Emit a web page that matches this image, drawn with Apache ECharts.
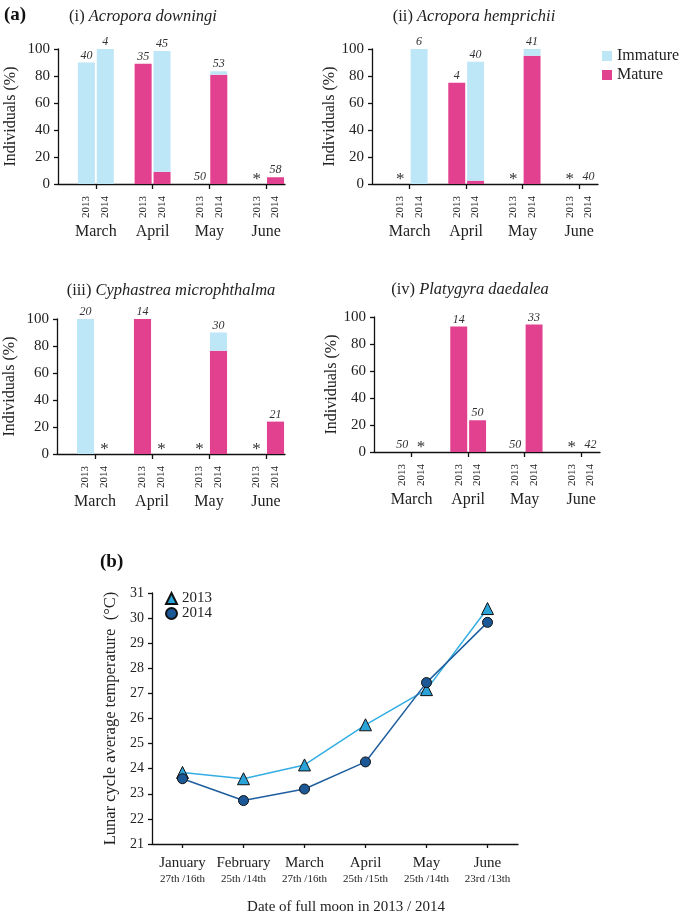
<!DOCTYPE html>
<html><head><meta charset="utf-8">
<script src="https://cdn.jsdelivr.net/npm/echarts@6/dist/echarts.min.js"></script>
<style>html,body{margin:0;padding:0;background:#fff}#c{width:685px;height:917px}</style>
</head><body><div id="c"></div>
<script>
// ---------- data ----------
const months = ['March', 'April', 'May', 'June'];
const years = ['2013', '2014'];
// order: Mar13, Mar14, Apr13, Apr14, May13, May14, Jun13, Jun14
const downingiMature   = [0, 0, 89, 9, 0, 81, 0, 5];
const downingiImmature = [90, 100, 0, 89.5, 0, 2.5, 0, 0];
const downingiN        = ['40', '4', '35', '45', '50', '53', '*', '58'];
const hemprichiiMature   = [0, 0, 75, 2.5, 0, 95, 0, 0];
const hemprichiiImmature = [0, 100, 0, 88, 0, 5, 0, 0];
const hemprichiiN        = ['*', '6', '4', '40', '*', '41', '*', '40'];
const cyphastreaMature   = [0, 0, 100, 0, 0, 76.5, 0, 24];
const cyphastreaImmature = [100, 0, 0, 0, 0, 13.5, 0, 0];
const cyphastreaN        = ['20', '*', '14', '*', '*', '30', '*', '21'];
const platygyraMature   = [0, 0, 93, 23.5, 0, 94.5, 0, 0];
const platygyraImmature = [0, 0, 0, 0, 0, 0, 0, 0];
const platygyraN        = ['50', '*', '14', '50', '50', '33', '*', '42'];

const moonMonths = ['January', 'February', 'March', 'April', 'May', 'June'];
const moonDates = ['27th /16th', '25th /14th', '27th /16th', '25th /15th', '25th /14th', '23rd /13th'];
const temp2013 = [23.85, 23.6, 24.15, 25.75, 27.15, 30.38];
const temp2014 = [23.6, 22.73, 23.19, 24.27, 27.43, 29.83];

// ---------- styling ----------
const FONT = 'Liberation Serif';
const PINK = '#e2418f';
const BLUE = '#bde6f7';
const panels = [
  {pre: '(i) ', sp: 'Acropora downingi', m: downingiMature, im: downingiImmature, n: downingiN,
   grid: {left: 58, top: 49, width: 227, height: 135}, tx: 138, ty: 3, gap: 39},
  {pre: '(ii) ', sp: 'Acropora hemprichii', m: hemprichiiMature, im: hemprichiiImmature, n: hemprichiiN,
   grid: {left: 372, top: 49, width: 226, height: 135}, tx: 469, ty: 3, gap: 32},
  {pre: '(iii) ', sp: 'Cyphastrea microphthalma', m: cyphastreaMature, im: cyphastreaImmature, n: cyphastreaN,
   grid: {left: 57, top: 319, width: 228, height: 135}, tx: 166, ty: 277, gap: 39},
  {pre: '(iv) ', sp: 'Platygyra daedalea', m: platygyraMature, im: platygyraImmature, n: platygyraN,
   grid: {left: 374, top: 317, width: 226, height: 135}, tx: 465, ty: 276, gap: 32}
];

// 12 slots per panel: [gap, 2013, 2014] x 4 months
const slotCats = [];
months.forEach(() => { slotCats.push(''); years.forEach(y => slotCats.push(y)); });
function toSlots(arr) {
  const out = [];
  months.forEach((mo, i) => { out.push('-'); out.push(arr[2 * i]); out.push(arr[2 * i + 1]); });
  return out;
}
function slotToIdx(s) { return Math.floor(s / 3) * 2 + (s % 3 - 1); }

const grid = [], xAxis = [], yAxis = [], series = [], title = [];
panels.forEach((p, k) => {
  grid.push(p.grid);
  xAxis.push({
    type: 'category', gridIndex: k, data: slotCats,
    axisLine: {show: false}, axisTick: {show: false},
    axisLabel: {interval: 0, rotate: 90, margin: 12, fontFamily: FONT, fontSize: 11, color: '#222'}
  });
  xAxis.push({
    type: 'value', gridIndex: k, min: 0, max: 12, position: 'bottom',
    splitLine: {show: false},
    axisLine: {show: true, onZero: false, lineStyle: {color: '#111', width: 1.3}},
    axisTick: {show: true, customValues: [2, 5, 8, 11], length: 5, lineStyle: {color: '#111', width: 1.3}},
    axisLabel: {customValues: [2, 5, 8, 11], margin: 40, fontFamily: FONT, fontSize: 16, color: '#222',
      formatter: v => months[Math.round((v - 2) / 3)]}
  });
  yAxis.push({
    type: 'value', gridIndex: k, min: 0, max: 100, interval: 20,
    name: 'Individuals (%)', nameLocation: 'middle', nameGap: p.gap,
    nameTextStyle: {fontFamily: FONT, fontSize: 16, color: '#222'},
    splitLine: {show: false},
    axisLine: {show: true, lineStyle: {color: '#111', width: 1.3}},
    axisTick: {show: true, length: 4, lineStyle: {color: '#111', width: 1.3}},
    axisLabel: {margin: 8, fontFamily: FONT, fontSize: 15, color: '#222'}
  });
  const common = {type: 'bar', xAxisIndex: 2 * k, yAxisIndex: k, stack: 's' + k, barCategoryGap: '10%'};
  series.push(Object.assign({}, common, {name: 'Mature', data: toSlots(p.m), itemStyle: {color: PINK}}));
  series.push(Object.assign({}, common, {name: 'Immature', data: toSlots(p.im), itemStyle: {color: BLUE}}));
  series.push(Object.assign({}, common, {
    name: 'n' + k, data: toSlots(p.m.map(() => 0)), itemStyle: {color: 'rgba(0,0,0,0)'},
    silent: true,
    label: {
      show: true, position: 'top', distance: 1,
      formatter: d => { const t = p.n[slotToIdx(d.dataIndex)]; return t === '*' ? '{s|*}' : '{n|' + t + '}'; },
      rich: {
        n: {fontFamily: FONT, fontStyle: 'italic', fontSize: 12, color: '#333', lineHeight: 12},
        s: {fontFamily: FONT, fontSize: 17, color: '#333', lineHeight: 6}
      }
    }
  }));
  title.push({
    text: p.pre + '{i|' + p.sp + '}', left: p.tx, top: p.ty, textAlign: 'center',
    textStyle: {fontFamily: FONT, fontSize: 16.5, fontWeight: 'normal', color: '#222',
      rich: {i: {fontFamily: FONT, fontSize: 16.5, fontStyle: 'italic', color: '#222'}}}
  });
});

// line chart (b)
grid.push({left: 152, top: 593, width: 366, height: 251});
xAxis.push({
  type: 'category', gridIndex: 4, data: moonMonths, boundaryGap: true,
  name: 'Date of full moon in 2013 / 2014', nameLocation: 'middle', nameGap: 56,
  nameTextStyle: {fontFamily: FONT, fontSize: 15, color: '#222', padding: [0, 0, 0, 22]},
  axisLine: {show: true, lineStyle: {color: '#111', width: 1.3}},
  axisTick: {show: true, alignWithLabel: true, length: 4, lineStyle: {color: '#111', width: 1.3}},
  axisLabel: {interval: 0, margin: 10, fontFamily: FONT, color: '#222',
    formatter: (v, i) => '{m|' + v + '}\n{d|' + moonDates[i] + '}',
    rich: {m: {fontFamily: FONT, fontSize: 15, color: '#222', lineHeight: 18},
           d: {fontFamily: FONT, fontSize: 11, color: '#222', lineHeight: 15}}}
});
yAxis.push({
  type: 'value', gridIndex: 4, min: 21, max: 31, interval: 1,
  name: 'Lunar cycle average temperature  (\u00B0C)', nameLocation: 'middle', nameGap: 28,
  nameTextStyle: {fontFamily: FONT, fontSize: 16.5, color: '#222'},
  splitLine: {show: false},
  axisLine: {show: true, lineStyle: {color: '#111', width: 1.3}},
  axisTick: {show: true, length: 4, lineStyle: {color: '#111', width: 1.3}},
  axisLabel: {margin: 8, fontFamily: FONT, fontSize: 14, color: '#222'}
});
series.push({
  type: 'line', name: '2013', xAxisIndex: 8, yAxisIndex: 4, data: temp2013,
  symbol: 'triangle', symbolSize: 12,
  lineStyle: {color: '#33ade3', width: 1.5},
  itemStyle: {color: '#2aa3d8', borderColor: '#111', borderWidth: 1}
});
series.push({
  type: 'line', name: '2014', xAxisIndex: 8, yAxisIndex: 4, data: temp2014,
  symbol: 'circle', symbolSize: 10,
  lineStyle: {color: '#1f5e9e', width: 1.5},
  itemStyle: {color: '#1c5895', borderColor: '#111', borderWidth: 1}
});

const option = {
  animation: false,
  backgroundColor: '#fff',
  title: title,
  legend: [
    {data: ['Immature', 'Mature'], orient: 'vertical', left: 597, top: 43, icon: 'rect',
     itemWidth: 10, itemHeight: 10, itemGap: 3, selectedMode: false,
     textStyle: {fontFamily: FONT, fontSize: 16, color: '#222'}},
    {data: [{name: '2013', icon: 'triangle'}, {name: '2014', icon: 'circle'}], orient: 'vertical',
     left: 160, top: 586, itemWidth: 11, itemHeight: 11, itemGap: 0, selectedMode: false,
     textStyle: {fontFamily: FONT, fontSize: 15, color: '#222'}}
  ],
  grid: grid, xAxis: xAxis, yAxis: yAxis, series: series,
  graphic: [
    {type: 'text', left: 4, top: 6, style: {text: '(a)', font: 'bold 19px "Liberation Serif"', fill: '#111'}},
    {type: 'text', left: 100, top: 553, style: {text: '(b)', font: 'bold 19px "Liberation Serif"', fill: '#111'}}
  ]
};
const chart = echarts.init(document.getElementById('c'));
chart.setOption(option);
</script></body></html>
